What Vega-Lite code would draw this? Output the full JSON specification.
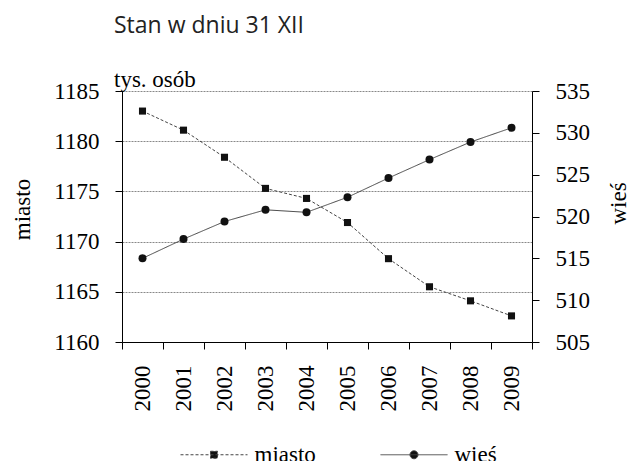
{
  "$schema": "https://vega.github.io/schema/vega-lite/v6.json",
  "width": 410,
  "height": 251,
  "autosize": {"type": "none"},
  "padding": {"left": 122, "top": 91, "right": 95, "bottom": 119},
  "background": "white",
  "title": {
    "text": "Stan w dniu 31 XII",
    "subtitle": "\u00a0\u00a0tys. osób",
    "anchor": "start",
    "frame": "group",
    "dx": -8,
    "font": "Open Sans",
    "fontSize": 23,
    "fontWeight": "normal",
    "color": "#222222",
    "subtitleFont": "Liberation Serif",
    "subtitleFontSize": 23,
    "subtitleColor": "#000000",
    "subtitlePadding": 31,
    "offset": -12
  },
  "data": {
    "values": [
      {"rok": "2000", "seria": "miasto", "wartosc": 1183.0},
      {"rok": "2001", "seria": "miasto", "wartosc": 1181.1},
      {"rok": "2002", "seria": "miasto", "wartosc": 1178.4},
      {"rok": "2003", "seria": "miasto", "wartosc": 1175.3},
      {"rok": "2004", "seria": "miasto", "wartosc": 1174.3},
      {"rok": "2005", "seria": "miasto", "wartosc": 1171.9},
      {"rok": "2006", "seria": "miasto", "wartosc": 1168.3},
      {"rok": "2007", "seria": "miasto", "wartosc": 1165.5},
      {"rok": "2008", "seria": "miasto", "wartosc": 1164.1},
      {"rok": "2009", "seria": "miasto", "wartosc": 1162.6},
      {"rok": "2000", "seria": "wieś", "wartosc": 515.0},
      {"rok": "2001", "seria": "wieś", "wartosc": 517.3},
      {"rok": "2002", "seria": "wieś", "wartosc": 519.4},
      {"rok": "2003", "seria": "wieś", "wartosc": 520.8},
      {"rok": "2004", "seria": "wieś", "wartosc": 520.5},
      {"rok": "2005", "seria": "wieś", "wartosc": 522.3},
      {"rok": "2006", "seria": "wieś", "wartosc": 524.6},
      {"rok": "2007", "seria": "wieś", "wartosc": 526.8},
      {"rok": "2008", "seria": "wieś", "wartosc": 528.9},
      {"rok": "2009", "seria": "wieś", "wartosc": 530.6}
    ]
  },
  "encoding": {
    "x": {
      "field": "rok",
      "type": "ordinal",
      "bandPosition": 0.5,
      "scale": {"type": "band", "paddingInner": 0, "paddingOuter": 0},
      "axis": {
        "title": null,
        "labelAngle": -90,
        "labelFont": "Liberation Serif",
        "labelFontSize": 23,
        "labelColor": "#000000",
        "tickBand": "extent",
        "tickSize": 7,
        "labelPadding": 16,
        "grid": false
      }
    }
  },
  "layer": [
    {
      "transform": [{"filter": "datum.seria === 'miasto'"}],
      "mark": {
        "type": "line",
        "color": "#444444",
        "strokeWidth": 1,
        "point": {"filled": true, "shape": "square", "size": 50, "fill": "#111111", "opacity": 1}
      },
      "encoding": {
        "y": {
          "field": "wartosc",
          "type": "quantitative",
          "scale": {"domain": [1160, 1185], "zero": false, "nice": false},
          "axis": {
            "orient": "left",
            "title": "miasto",
            "format": "d",
            "values": [1160, 1165, 1170, 1175, 1180, 1185],
            "labelFont": "Liberation Serif",
            "labelFontSize": 23,
            "labelColor": "#000000",
            "titleFont": "Liberation Serif",
            "titleFontSize": 23,
            "grid": true,
            "gridDash": [2, 1],
            "gridColor": "#888888",
            "gridWidth": 1,
            "tickSize": 7,
            "labelPadding": 16,
            "titlePadding": 19,
            "titleY": 118
          }
        },
        "strokeDash": {
          "field": "seria",
          "type": "nominal",
          "scale": {"domain": ["miasto", "wieś"], "range": [[3, 2], [1, 0]]},
          "legend": {
            "title": null,
            "orient": "none",
            "legendX": 47,
            "legendY": 352,
            "direction": "horizontal",
            "padding": 0,
            "labelFont": "Liberation Serif",
            "labelFontSize": 23,
            "labelColor": "#000000",
            "symbolSize": 4,
            "symbolStrokeWidth": 1,
            "symbolType": {"expr": "datum.value === 'miasto' ? 'M-33.5,0H33.5M-3.5,-3.5H3.5V3.5H-3.5Z' : 'M-33.5,0H33.5M-4,0A4,4,0,1,0,4,0A4,4,0,1,0,-4,0Z'"},
            "symbolFillColor": "#111111",
            "symbolStrokeColor": "#444444",
            "symbolOpacity": 1,
            "symbolOffset": 33.5,
            "labelOffset": 29,
            "columnPadding": 53,
            "encode": {
              "symbols": {
                "update": {
                  "stroke": {"value": "#444444"},
                  "strokeWidth": {"value": 1},
                  "strokeOpacity": {"value": 1}
                }
              }
            }
          }
        }
      }
    },
    {
      "transform": [{"filter": "datum.seria === 'wieś'"}],
      "mark": {
        "type": "line",
        "color": "#444444",
        "strokeWidth": 1,
        "point": {"filled": true, "shape": "circle", "size": 64, "fill": "#111111", "opacity": 1}
      },
      "encoding": {
        "y": {
          "field": "wartosc",
          "type": "quantitative",
          "scale": {"domain": [505, 535], "zero": false, "nice": false},
          "axis": {
            "orient": "right",
            "title": "wieś",
            "format": "d",
            "values": [505, 510, 515, 520, 525, 530, 535],
            "labelFont": "Liberation Serif",
            "labelFontSize": 23,
            "labelColor": "#000000",
            "titleFont": "Liberation Serif",
            "titleFontSize": 23,
            "grid": false,
            "tickSize": 7,
            "labelPadding": 16,
            "titleAngle": -90,
            "titleBaseline": "top",
            "titlePadding": 18,
            "titleY": 112
          }
        },
        "strokeDash": {"field": "seria", "type": "nominal"}
      }
    }
  ],
  "resolve": {"scale": {"y": "independent"}},
  "config": {
    "font": "Liberation Serif",
    "view": {"stroke": null},
    "title": {"subtitleFont": "Liberation Serif", "subtitleFontSize": 23},
    "axis": {
      "labelFont": "Liberation Serif",
      "titleFont": "Liberation Serif",
      "titleFontWeight": "normal",
      "titleColor": "#000000",
      "domainColor": "#000000",
      "domainWidth": 1,
      "tickColor": "#000000",
      "tickWidth": 1
    }
  }
}
